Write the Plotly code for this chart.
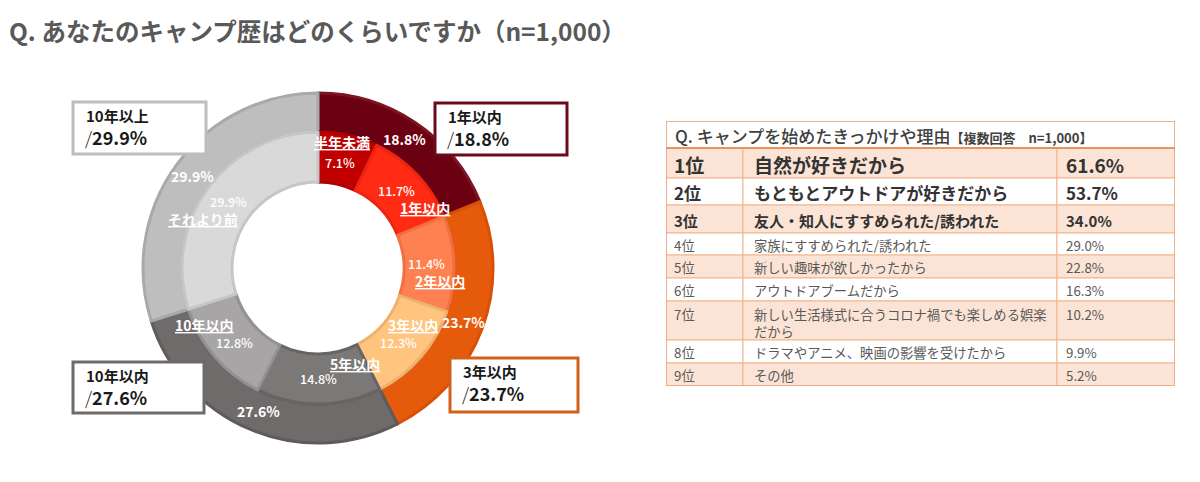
import math
import plotly.graph_objects as go

W, H = 1200, 482
FONT = "Noto Sans CJK JP"

# ---------------- data ----------------
title_text = "Q. あなたのキャンプ歴はどのくらいですか（n=1,000）"

outer_labels = ["1年以内", "3年以内", "10年以内", "10年以上"]
outer_values = [18.8, 23.7, 27.6, 29.9]

inner_labels = ["半年未満", "1年以内", "2年以内", "3年以内", "5年以内", "10年以内", "それより前"]
inner_values = [7.1, 11.7, 11.4, 12.3, 14.8, 12.8, 29.9]

table_title = "Q. キャンプを始めたきっかけや理由"
table_note = "【複数回答　n=1,000】"
ranks = ["1位", "2位", "3位", "4位", "5位", "6位", "7位", "8位", "9位"]
reasons = [
    "自然が好きだから",
    "もともとアウトドアが好きだから",
    "友人・知人にすすめられた/誘われた",
    "家族にすすめられた/誘われた",
    "新しい趣味が欲しかったから",
    "アウトドアブームだから",
    "新しい生活様式に合うコロナ禍でも楽しめる娯楽<br>だから",
    "ドラマやアニメ、映画の影響を受けたから",
    "その他",
]
reason_pcts = [61.6, 53.7, 34.0, 29.0, 22.8, 16.3, 10.2, 9.9, 5.2]

# ---------------- styles ----------------
outer_colors = ["#6B0012", "#E65A0B", "#6F6B6B", "#BEBEBE"]
outer_lines = ["#7C1424", "#D85008", "#5F5B5B", "#A9A9A9"]
inner_colors = ["#C00000", "#FF2B12", "#FF8050", "#FFC47E", "#7B7878", "#A7A5A5", "#D9D9D9"]
inner_lines = ["#AE0000", "#EC2410", "#F07040", "#EDB272", "#676464", "#939191", "#C6C6C6"]

CX, CY = 318, 268          # donut centre (px)
R_OUT, R_MID, R_HOLE = 175, 136, 86

def px_x(x):
    return x / W

def px_y(y):
    return 1 - y / H

fig = go.Figure()

fig.add_trace(go.Pie(
    values=outer_values, labels=outer_labels, sort=False, direction="clockwise",
    hole=R_MID / R_OUT, textinfo="none", hoverinfo="label+value",
    marker=dict(colors=outer_colors, line=dict(color=outer_lines, width=3)),
    domain=dict(x=[px_x(CX - R_OUT), px_x(CX + R_OUT)], y=[px_y(CY + R_OUT), px_y(CY - R_OUT)]),
    showlegend=False,
))
fig.add_trace(go.Pie(
    values=inner_values, labels=inner_labels, sort=False, direction="clockwise",
    hole=R_HOLE / R_MID, textinfo="none", hoverinfo="label+value",
    marker=dict(colors=inner_colors, line=dict(color=inner_lines, width=3)),
    domain=dict(x=[px_x(CX - R_MID), px_x(CX + R_MID)], y=[px_y(CY + R_MID), px_y(CY - R_MID)]),
    showlegend=False,
))

annotations = []
shapes = []

def polar(theta_deg, r):
    t = math.radians(theta_deg)
    return px_x(CX + r * math.sin(t)), px_y(CY - r * math.cos(t))

def mid_angles(vals):
    tot = sum(vals)
    out, cum = [], 0
    for v in vals:
        out.append((cum + v / 2) / tot * 360)
        cum += v
    return out

# outer ring labels
for v, a in zip(outer_values, mid_angles(outer_values)):
    x, y = polar(a, 155)
    annotations.append(dict(x=x, y=y, xref="paper", yref="paper", xanchor="center", yanchor="middle",
                            text=f"{v}%", showarrow=False,
                            font=dict(family=FONT, size=14, color="white", weight="bold")))

# inner ring labels
pct_off = [(-3, 3), (-2, -1), (-2, -1), (-3, 2), (0, 0), (1, 2), (0, -1)]
lab_off = [(-1, -18), (26, 16), (11, 16), (11, -16), (36, -15), (-29, -15), (-25, 17)]
for i, (lab, v, a) in enumerate(zip(inner_labels, inner_values, mid_angles(inner_values))):
    x, y = polar(a, 111)
    annotations.append(dict(x=x, y=y, xref="paper", yref="paper", xanchor="center", yanchor="middle",
                            text=f"{v}%", showarrow=False,
                            xshift=pct_off[i][0], yshift=-pct_off[i][1],
                            font=dict(family=FONT, size=12.5, color="white", weight=500)))
    annotations.append(dict(x=x, y=y, xref="paper", yref="paper", xanchor="center", yanchor="middle",
                            text=f"<u>{lab}</u>", showarrow=False,
                            xshift=lab_off[i][0], yshift=-lab_off[i][1],
                            font=dict(family=FONT, size=14, color="white", weight=600)))

# callout boxes (label / value taken from outer ring data)
box_pos = {  # x0, y0, x1, y1 in px
    "1年以内": (435, 103, 567, 155),
    "3年以内": (450, 358, 578, 412),
    "10年以内": (73, 362, 204, 413),
    "10年以上": (73, 102, 206, 154),
}
box_colors = {"1年以内": "#6B0A1A", "3年以内": "#D2601A", "10年以内": "#6E6A6A", "10年以上": "#BDBDBD"}
for lab, v in zip(outer_labels, outer_values):
    x0, y0, x1, y1 = box_pos[lab]
    shapes.append(dict(type="rect", xref="paper", yref="paper", x0=px_x(x0), x1=px_x(x1),
                       y0=px_y(y1), y1=px_y(y0), line=dict(color=box_colors[lab], width=3),
                       fillcolor="white", layer="above"))
    annotations.append(dict(x=px_x(x0 + 11), y=px_y(y0 + 13), xref="paper", yref="paper",
                            xanchor="left", yanchor="middle", text=lab, showarrow=False,
                            font=dict(family=FONT, size=15, color="#1A1A1A", weight=600)))
    annotations.append(dict(x=px_x(x0 + 10), y=px_y(y0 + 35), xref="paper", yref="paper",
                            xanchor="left", yanchor="middle",
                            text=f"<span style='font-weight:300'>/</span>{v}%", showarrow=False,
                            font=dict(family=FONT, size=18, color="#1A1A1A", weight=600)))

# title
annotations.append(dict(x=px_x(7), y=px_y(30), xref="paper", yref="paper", xanchor="left", yanchor="middle",
                        text=title_text, showarrow=False,
                        font=dict(family=FONT, size=24.5, color="#595959", weight=600)))

# ---------------- table (on a hidden cartesian axis) ----------------
TW = 509
col_edges = [0, 77, 391, TW]
row_heights = [27, 30, 27, 28, 22, 23, 23, 39, 23, 23]
row_fill = ["white"] + ["#FBE4D5" if i % 2 == 0 else "white" for i in range(len(ranks))]
row_size = [19, 17, 15] + [13.3] * 6
row_bold = [True, True, True] + [False] * 6
row_color = ["#333333", "#333333", "#333333"] + ["#595959"] * 6
line_c = "#F1B48C"

tops = [0]
for h in row_heights:
    tops.append(tops[-1] + h)
TH = tops[-1]

fig.add_trace(go.Scatter(x=[0, TW], y=[0, TH], mode="markers", marker=dict(opacity=0),
                         hoverinfo="skip", showlegend=False, xaxis="x", yaxis="y"))

# title row
shapes.append(dict(type="rect", xref="x", yref="y", x0=0, x1=TW, y0=tops[0], y1=tops[1],
                   fillcolor=row_fill[0], line=dict(color=line_c, width=1), layer="below"))
annotations.append(dict(x=7, y=(tops[0] + tops[1]) / 2 + 1, xref="x", yref="y", xanchor="left", yanchor="middle",
                        text=f"{table_title}<span style='font-size:13px;font-weight:bold'>{table_note}</span>",
                        showarrow=False, font=dict(family=FONT, size=17, color="#404040", weight=500)))

for i in range(len(ranks)):
    r0, r1 = tops[i + 1], tops[i + 2]
    for c in range(3):
        shapes.append(dict(type="rect", xref="x", yref="y", x0=col_edges[c], x1=col_edges[c + 1],
                           y0=r0, y1=r1, fillcolor=row_fill[i + 1], line=dict(color=line_c, width=1),
                           layer="below"))
    multiline = "<br>" in reasons[i]
    yy = r0 + 2 if multiline else (r0 + r1) / 2 + 1
    ya = "top" if multiline else "middle"
    weight = "bold" if row_bold[i] else "normal"
    texts = [ranks[i], reasons[i], f"{reason_pcts[i]:.1f}%"]
    xs = [col_edges[0] + 6, col_edges[1] + 9, col_edges[2] + 7]
    for c in range(3):
        annotations.append(dict(x=xs[c], y=yy, xref="x", yref="y", xanchor="left", yanchor=ya, align="left",
                                text=texts[c], showarrow=False,
                                font=dict(family=FONT, size=row_size[i], color=row_color[i], weight=weight)))

# outer frame and header separator
shapes.append(dict(type="rect", xref="x", yref="y", x0=0, x1=TW, y0=0, y1=TH,
                   line=dict(color="#E9A47A", width=1.5), layer="above"))
shapes.append(dict(type="line", xref="x", yref="y", x0=0, x1=TW, y0=tops[1], y1=tops[1],
                   line=dict(color="#E8935A", width=2), layer="above"))

fig.update_layout(
    width=W, height=H, margin=dict(l=0, r=0, t=0, b=0),
    paper_bgcolor="white", plot_bgcolor="white",
    xaxis=dict(domain=[666 / W, 1175 / W], range=[0, TW], visible=False, fixedrange=True),
    yaxis=dict(domain=[px_y(386), px_y(121)], range=[TH, 0], visible=False, fixedrange=True),
    shapes=shapes, annotations=annotations, showlegend=False,
    font=dict(family=FONT),
)

fig.write_html("out.html", config={"displayModeBar": False},
               post_script="document.body.style.margin='0';")
